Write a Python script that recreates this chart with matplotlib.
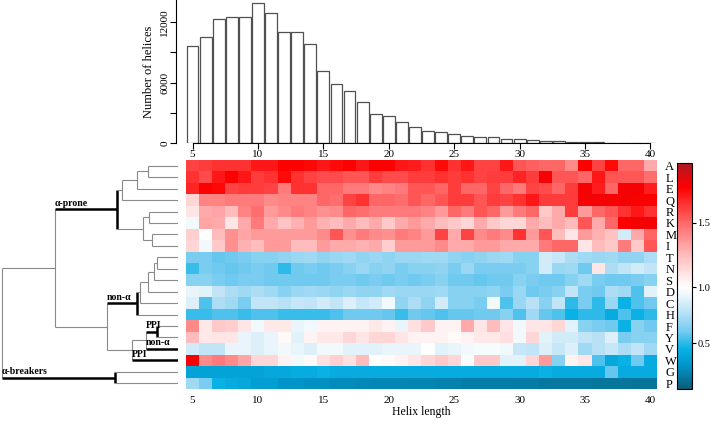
import numpy as np
import matplotlib
matplotlib.use("Agg")
import matplotlib.pyplot as plt
from matplotlib.colors import LinearSegmentedColormap, FuncNorm

plt.rcParams['font.family'] = ['Liberation Serif', 'DejaVu Serif']

W, H = 711, 422

# ===== DATA =====
lengths = np.arange(5, 41)
helix_counts = [9650, 10540, 12270, 12470, 12470, 13920, 12860, 10980, 10980, 9790,
                7170, 5820, 5160, 4070, 2850, 2680, 2150, 1650, 1240, 1130,
                960, 760, 630, 600, 460, 400, 330, 260, 200, 130,
                115, 100, 70, 50, 35, 30]

residues = ['A', 'L', 'E', 'Q', 'R', 'K', 'M', 'I', 'T', 'N',
            'S', 'D', 'C', 'H', 'F', 'Y', 'V', 'W', 'G', 'P']

row_A = [1.6, 1.62, 1.65, 1.65, 1.65, 1.72, 1.72, 1.78, 1.78, 1.76, 1.72, 1.75, 1.78, 1.72, 1.78, 1.78, 1.72, 1.7,
         1.65, 1.75, 1.65, 1.72, 1.6, 1.6, 1.72, 1.55, 1.52, 1.5, 1.5, 1.4, 1.78, 1.6, 1.75, 1.5, 1.5, 1.3]
row_L = [1.65, 1.58, 1.72, 1.78, 1.72, 1.62, 1.65, 1.75, 1.65, 1.6, 1.58, 1.58, 1.55, 1.55, 1.62, 1.58, 1.58, 1.62,
         1.62, 1.65, 1.62, 1.65, 1.6, 1.62, 1.62, 1.68, 1.62, 1.8, 1.55, 1.55, 1.5, 1.72, 1.55, 1.55, 1.55, 1.48]
row_E = [1.68, 1.78, 1.76, 1.6, 1.62, 1.62, 1.6, 1.45, 1.65, 1.65, 1.5, 1.5, 1.45, 1.45, 1.4, 1.42, 1.45, 1.55,
         1.55, 1.5, 1.62, 1.5, 1.5, 1.6, 1.5, 1.45, 1.6, 1.58, 1.5, 1.62, 1.8, 1.7, 1.5, 1.8, 1.8, 1.7]
row_Q = [1.15, 1.42, 1.42, 1.45, 1.45, 1.45, 1.4, 1.42, 1.42, 1.42, 1.5, 1.48, 1.6, 1.65, 1.5, 1.5, 1.48, 1.55,
         1.5, 1.55, 1.62, 1.62, 1.55, 1.62, 1.6, 1.65, 1.72, 1.62, 1.62, 1.62, 1.8, 1.8, 1.8, 1.8, 1.79, 1.79]
row_R = [1.1, 1.3, 1.32, 1.25, 1.42, 1.48, 1.35, 1.4, 1.45, 1.42, 1.38, 1.4, 1.5, 1.48, 1.45, 1.45, 1.45, 1.45,
         1.42, 1.35, 1.5, 1.45, 1.55, 1.5, 1.35, 1.45, 1.5, 1.2, 1.3, 1.62, 1.35, 1.5, 1.55, 1.65, 1.72, 1.65]
row_K = [0.95, 1.32, 1.3, 1.1, 1.3, 1.45, 1.3, 1.22, 1.28, 1.35, 1.28, 1.25, 1.3, 1.25, 1.3, 1.2, 1.3, 1.35,
         1.3, 1.25, 1.2, 1.15, 1.3, 1.2, 1.15, 1.15, 1.3, 1.25, 1.3, 1.25, 1.55, 1.3, 1.5, 1.78, 1.8, 1.8]
row_M = [1.18, 1.0, 1.25, 1.38, 1.32, 1.35, 1.35, 1.35, 1.35, 1.35, 1.4, 1.55, 1.38, 1.45, 1.4, 1.38, 1.45, 1.42,
         1.35, 1.6, 1.3, 1.6, 1.4, 1.45, 1.4, 1.65, 1.35, 1.55, 1.25, 1.1, 1.35, 1.28, 1.22, 0.85, 1.3, 1.5]
row_I = [1.15, 0.95, 1.2, 1.38, 1.28, 1.25, 1.35, 1.35, 1.25, 1.25, 1.35, 1.3, 1.3, 1.28, 1.3, 1.18, 1.35, 1.35,
         1.35, 1.4, 1.3, 1.3, 1.35, 1.35, 1.3, 1.3, 1.3, 1.45, 1.5, 1.5, 1.1, 1.25, 1.2, 1.45, 1.2, 1.55]
row_T = [0.62, 0.62, 0.58, 0.6, 0.62, 0.65, 0.65, 0.68, 0.7, 0.72, 0.68, 0.7, 0.72, 0.68, 0.7, 0.68, 0.7, 0.7,
         0.72, 0.72, 0.68, 0.65, 0.68, 0.7, 0.72, 0.65, 0.65, 0.85, 0.82, 0.75, 0.72, 0.7, 0.72, 0.68, 0.68, 0.75]
row_N = [0.52, 0.62, 0.6, 0.58, 0.6, 0.62, 0.6, 0.5, 0.6, 0.62, 0.6, 0.62, 0.65, 0.7, 0.65, 0.68, 0.62, 0.65,
         0.65, 0.68, 0.62, 0.7, 0.62, 0.62, 0.62, 0.62, 0.65, 0.85, 0.7, 0.72, 0.6, 1.1, 0.75, 0.8, 0.85, 0.8]
row_S = [0.65, 0.65, 0.62, 0.6, 0.62, 0.62, 0.6, 0.6, 0.6, 0.6, 0.6, 0.62, 0.62, 0.6, 0.62, 0.6, 0.62, 0.6,
         0.62, 0.65, 0.6, 0.6, 0.58, 0.6, 0.6, 0.65, 0.62, 0.6, 0.6, 0.65, 0.72, 0.62, 0.6, 0.6, 0.62, 0.65]
row_D = [0.92, 0.9, 0.8, 0.75, 0.72, 0.75, 0.72, 0.65, 0.7, 0.72, 0.7, 0.68, 0.7, 0.68, 0.68, 0.72, 0.7, 0.7,
         0.7, 0.72, 0.65, 0.65, 0.65, 0.68, 0.62, 0.7, 0.6, 0.62, 0.65, 0.8, 0.62, 0.6, 0.75, 0.72, 0.55, 0.9]
row_C = [0.88, 0.55, 0.75, 0.72, 0.62, 0.8, 0.8, 0.78, 0.82, 0.8, 0.85, 0.8, 0.88, 0.82, 0.85, 0.95, 0.68, 0.75,
         0.68, 0.85, 0.65, 0.65, 0.62, 0.95, 0.55, 0.7, 0.78, 0.65, 0.8, 0.5, 0.62, 0.5, 0.7, 0.45, 0.55, 0.6]
row_H = [0.52, 0.52, 0.55, 0.55, 0.52, 0.55, 0.55, 0.52, 0.52, 0.52, 0.52, 0.55, 0.6, 0.6, 0.6, 0.58, 0.52, 0.6,
         0.58, 0.55, 0.58, 0.58, 0.6, 0.6, 0.65, 0.55, 0.72, 0.58, 0.55, 0.45, 0.5, 0.5, 0.42, 0.55, 0.45, 0.5]
row_F = [1.4, 1.08, 1.2, 1.18, 1.1, 0.95, 1.08, 1.08, 0.92, 0.95, 1.05, 1.05, 1.05, 1.05, 1.08, 1.05, 0.92, 1.12,
         1.2, 1.05, 1.05, 1.3, 1.1, 1.25, 1.1, 0.95, 1.1, 1.1, 1.15, 0.9, 0.65, 0.62, 0.6, 0.45, 0.65, 0.6]
row_Y = [1.25, 1.08, 1.1, 1.1, 0.92, 0.88, 0.92, 1.02, 0.9, 1.05, 1.08, 1.08, 1.15, 1.1, 1.15, 1.15, 1.1, 1.05,
         1.05, 1.05, 1.02, 1.05, 1.08, 1.08, 1.12, 0.95, 1.15, 0.9, 0.85, 0.85, 0.8, 0.78, 0.88, 0.62, 0.65, 0.65]
row_V = [0.85, 0.8, 0.8, 0.92, 0.92, 0.88, 0.92, 0.95, 0.92, 0.88, 0.95, 0.95, 0.9, 0.9, 0.9, 0.92, 0.92, 0.92,
         1.0, 0.9, 0.92, 0.95, 0.97, 0.97, 0.95, 0.82, 0.8, 0.88, 0.82, 0.88, 0.72, 0.78, 0.82, 0.75, 0.8, 0.72]
row_W = [1.8, 1.4, 1.45, 1.4, 1.32, 1.15, 1.15, 1.05, 0.95, 1.02, 1.12, 1.18, 1.12, 1.25, 1.0, 1.02, 1.05, 1.1,
         1.15, 1.2, 1.15, 0.98, 1.2, 1.2, 0.9, 0.9, 1.15, 1.35, 0.65, 1.05, 1.1, 0.55, 0.4, 0.45, 0.6, 0.42]
row_G = [0.38, 0.38, 0.38, 0.38, 0.38, 0.38, 0.4, 0.4, 0.42, 0.42, 0.45, 0.42, 0.42, 0.42, 0.42, 0.42, 0.42, 0.42,
         0.42, 0.42, 0.42, 0.42, 0.42, 0.42, 0.42, 0.42, 0.42, 0.45, 0.42, 0.42, 0.42, 0.42, 0.58, 0.42, 0.42, 0.42]
row_P = [0.72, 0.62, 0.45, 0.42, 0.4, 0.35, 0.35, 0.3, 0.3, 0.28, 0.28, 0.27, 0.27, 0.26, 0.25, 0.25, 0.25, 0.24,
         0.24, 0.23, 0.23, 0.22, 0.22, 0.22, 0.22, 0.21, 0.21, 0.2, 0.2, 0.2, 0.2, 0.19, 0.19, 0.19, 0.18, 0.18]

heat = np.array([row_A, row_L, row_E, row_Q, row_R, row_K, row_M, row_I, row_T, row_N,
                 row_S, row_D, row_C, row_H, row_F, row_Y, row_V, row_W, row_G, row_P])

# dendrogram merges: (child, child, height); ints refer to earlier merges
merges = [("A", "L", 30), (0, "E", 41), (1, "Q", 56),
          ("R", "K", 29), ("M", "I", 26), (3, 4, 35),
          (2, 5, 61),
          ("T", "N", 21), (7, "S", 24), (8, "D", 30), (9, "C", 38), (10, "H", 41),
          ("F", "Y", 21), (12, "V", 32), (13, "W", 46),
          (11, 14, 71), (6, 15, 123),
          ("G", "P", 63), (16, 17, 176)]
cluster_labels = {6: "α-prone", 11: "non-α", 12: "PPI", "V": "non-α", "W": "PPI", 17: "α-breakers"}

# ===== COLOUR SCALE =====
bar_vals = [0.09, 0.5, 1.0, 1.5, 1.97]
bar_pos = [0.0, 0.2035, 0.451, 0.735, 1.0]

def fwd(v):
    return np.interp(v, bar_vals, bar_pos)

def inv(u):
    return np.interp(u, bar_pos, bar_vals)

norm = FuncNorm((fwd, inv), vmin=0.09, vmax=1.97)
anchors = [(0.09, (12, 92, 120)), (0.3, (0, 150, 202)), (0.45, (10, 178, 230)),
           (0.6, (115, 203, 240)), (0.75, (175, 222, 245)), (0.9, (228, 243, 251)),
           (1.0, (255, 255, 255)), (1.25, (255, 188, 188)), (1.5, (255, 105, 105)),
           (1.65, (255, 50, 50)), (1.78, (255, 0, 0)), (1.97, (175, 25, 35))]
cmap = LinearSegmentedColormap.from_list(
    "ratio", [(float(fwd(v)), np.array(c) / 255) for v, c in anchors])

fig = plt.figure(figsize=(W / 100, H / 100), dpi=100)

def px_axes(x0, y0, x1, y1):
    return fig.add_axes([x0 / W, 1 - y1 / H, (x1 - x0) / W, (y1 - y0) / H])

# ===== HISTOGRAM =====
ax_h = px_axes(186, 0, 657, 143.3)
ax_h.bar(lengths, helix_counts, width=0.9, color="white", edgecolor="#505050", lw=0.9)
ax_h.set_xlim(4.5, 40.5)
ax_h.set_ylim(0, 14180)
for s in ["top", "right"]:
    ax_h.spines[s].set_visible(False)
ax_h.spines["left"].set_position(("outward", 7))
ax_h.spines["bottom"].set_bounds(5, 40)
ax_h.set_xticks(range(5, 41, 5))
ax_h.set_yticks([0, 3000, 6000, 9000, 12000])
ax_h.set_yticklabels(["0", "", "6000", "", "12000"])
for t in ax_h.get_yticklabels():
    t.set_rotation(90)
    t.set_va("center")
ax_h.tick_params(labelsize=8, length=4, pad=1)
ax_h.set_ylabel("Number of helices", fontsize=9, labelpad=4)

# ===== HEATMAP =====
ax_m = px_axes(186, 160, 657, 389)
im = ax_m.imshow(heat, cmap=cmap, norm=norm, aspect="auto", interpolation="nearest",
                 extent=(4.5, 40.5, 19.5, -0.5))
for s in ax_m.spines.values():
    s.set_visible(False)
ax_m.set_xticks(range(5, 41, 5))
ax_m.set_yticks(range(len(residues)))
ax_m.set_yticklabels(residues)
ax_m.yaxis.tick_right()
ax_m.tick_params(axis="x", length=0, pad=5, labelsize=8)
ax_m.tick_params(axis="y", length=0, pad=6, labelsize=9)
ax_m.set_xlabel("Helix length", fontsize=8.5, labelpad=1)

cax = px_axes(677, 163, 692, 389)
cb = fig.colorbar(im, cax=cax, ticks=[0.5, 1.0, 1.5])
cb.ax.tick_params(labelsize=7.5, length=3, pad=1)
cb.outline.set_linewidth(0.8)

# ===== DENDROGRAM =====
ax_d = px_axes(0, 160, 178, 389)
ax_d.set_xlim(178, 0)
ax_d.set_ylim(19.5, -0.5)
ax_d.axis("off")

node_y, node_h, parent_h = [], [], {}
bold = {6, 11, 12, 17, "V", "W"}

def pos(c):
    if isinstance(c, str):
        return residues.index(c), 0
    return node_y[c], node_h[c]

for k, (a, b, h) in enumerate(merges):
    ya, ha = pos(a)
    yb, hb = pos(b)
    node_y.append((ya + yb) / 2)
    node_h.append(h)
    kb = k in bold
    ax_d.plot([h, h], [ya, yb], color="black" if kb else "#8a8a8a", lw=1.8 if kb else 0.8,
              solid_capstyle="butt")
    for c, yc, hc in [(a, ya, ha), (b, yb, hb)]:
        parent_h[c] = h
        cb_ = c in bold
        ax_d.plot([h, hc], [yc, yc], color="black" if cb_ else "#8a8a8a", lw=1.8 if cb_ else 0.8,
                  solid_capstyle="butt")

for c, txt in cluster_labels.items():
    yc, _ = pos(c)
    ax_d.text(parent_h[c], yc - 0.15, txt, fontsize=7, fontweight="bold",
              ha="left", va="bottom")

fig.savefig("out.png", dpi=100)
